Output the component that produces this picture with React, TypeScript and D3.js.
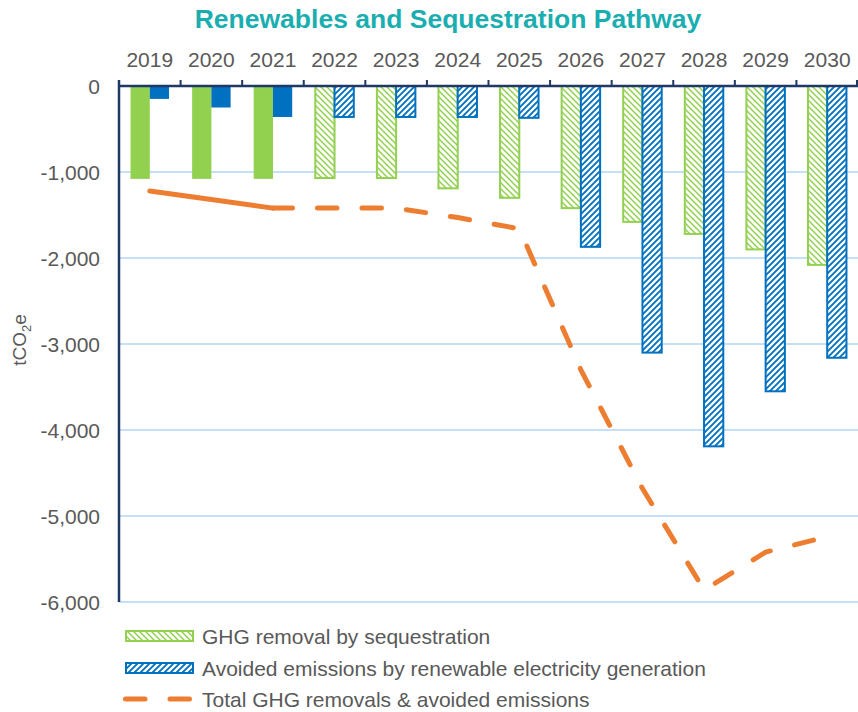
import * as d3 from 'd3';
import React, { useRef, useEffect } from 'react';

const years = ['2019', '2020', '2021', '2022', '2023', '2024', '2025', '2026', '2027', '2028', '2029', '2030']
const sequestration = [-1080, -1080, -1080, -1070, -1070, -1190, -1300, -1420, -1580, -1720, -1900, -2080]
const renewables = [-150, -250, -360, -360, -360, -360, -370, -1870, -3100, -4190, -3550, -3160]
const totals = [-1220, -1320, -1420, -1420, -1420, -1530, -1660, -3300, -4680, -5860, -5420, -5240]
const yTicks = [0, -1000, -2000, -3000, -4000, -5000, -6000]
const actualYears = 3 // 2019-2021 are actuals (solid), the rest projected
const legendLabels = [
    'GHG removal by sequestration',
    'Avoided emissions by renewable electricity generation',
    'Total GHG removals & avoided emissions'
]

const GREEN = '#92D050'
const BLUE = '#0070C0'
const ORANGE = '#ED7D31'
const AXIS = '#1F3864'
const GRID = '#C5DFF6'
const TEXT = '#595959'
const FONT = '"Liberation Sans", Arial, sans-serif'

export default function App() {
    const ref = useRef(null)

    useEffect(() => {
        d3.select(ref.current).selectAll('*').remove()

        const svg = d3.select(ref.current)
        const left = 119, right = 858, top = 86, bottom = 602

        // hatch patterns
        const defs = svg.append('defs')
        const gp = defs.append('pattern')
            .attr('id', 'greenHatch')
            .attr('patternUnits', 'userSpaceOnUse')
            .attr('width', 6).attr('height', 6)
        gp.append('rect').attr('width', 6).attr('height', 6).attr('fill', '#fff')
        gp.append('path')
            .attr('d', 'M0,0 L6,6 M-1,5 L1,7 M5,-1 L7,1')
            .attr('stroke', GREEN).attr('stroke-width', 1.5)

        const bp = defs.append('pattern')
            .attr('id', 'blueHatch')
            .attr('patternUnits', 'userSpaceOnUse')
            .attr('width', 6).attr('height', 6)
        bp.append('rect').attr('width', 6).attr('height', 6).attr('fill', BLUE)
        bp.append('path')
            .attr('d', 'M0,6 L6,0 M-1,1 L1,-1 M5,7 L7,5')
            .attr('stroke', '#fff').attr('stroke-width', 2.4)

        const x = d3.scaleBand()
            .domain(years)
            .range([left, right])
            .padding(0)

        const y = d3.scaleLinear()
            .domain([-6000, 0])
            .range([bottom, top])

        const bw = x.bandwidth() / 3.2

        // title
        svg.append('text')
            .attr('x', 448)
            .attr('y', 28)
            .attr('text-anchor', 'middle')
            .style('font-family', FONT)
            .style('font-size', '26.5px')
            .style('font-weight', 'bold')
            .style('fill', '#1AAEB0')
            .text('Renewables and Sequestration Pathway')

        // gridlines
        svg.append('g')
            .selectAll('line')
            .data(yTicks.filter(d => d !== 0))
            .enter().append('line')
            .attr('x1', left).attr('x2', right)
            .attr('y1', d => y(d)).attr('y2', d => y(d))
            .attr('stroke', GRID)
            .attr('stroke-width', 2)

        // y tick labels
        svg.append('g')
            .selectAll('text')
            .data(yTicks)
            .enter().append('text')
            .attr('x', 100)
            .attr('y', d => y(d))
            .attr('dy', '0.36em')
            .attr('text-anchor', 'end')
            .style('font-family', FONT)
            .style('font-size', '21px')
            .style('fill', TEXT)
            .text(d => d3.format(',')(d).replace('−', '-'))

        // y axis title
        const yt = svg.append('text')
            .attr('transform', 'translate(26,340) rotate(-90)')
            .attr('text-anchor', 'middle')
            .style('font-family', FONT)
            .style('font-size', '19px')
            .style('fill', TEXT)
        yt.append('tspan').text('tCO')
        yt.append('tspan').attr('dy', 5).style('font-size', '13px').text('2')
        yt.append('tspan').attr('dy', -5).text('e')

        // bars
        const rows = years.map((yr, i) => ({ yr, i, seq: sequestration[i], ren: renewables[i] }))

        svg.append('g')
            .selectAll('rect')
            .data(rows)
            .enter().append('rect')
            .attr('x', d => x(d.yr) + x.bandwidth() / 2 - bw)
            .attr('y', y(0))
            .attr('width', bw)
            .attr('height', d => y(d.seq) - y(0))
            .attr('fill', d => d.i < actualYears ? GREEN : 'url(#greenHatch)')
            .attr('stroke', d => d.i < actualYears ? 'none' : GREEN)
            .attr('stroke-width', 2)

        svg.append('g')
            .selectAll('rect')
            .data(rows)
            .enter().append('rect')
            .attr('x', d => x(d.yr) + x.bandwidth() / 2)
            .attr('y', y(0))
            .attr('width', bw)
            .attr('height', d => y(d.ren) - y(0))
            .attr('fill', d => d.i < actualYears ? BLUE : 'url(#blueHatch)')
            .attr('stroke', d => d.i < actualYears ? 'none' : BLUE)
            .attr('stroke-width', 2)

        // total line: solid for actuals, dashed for projection
        const pts = years.map((yr, i) => [x(yr) + x.bandwidth() / 2, y(totals[i])])
        const line = d3.line()

        svg.append('path')
            .attr('d', line(pts.slice(0, actualYears)))
            .attr('fill', 'none')
            .attr('stroke', ORANGE)
            .attr('stroke-width', 5)
            .attr('stroke-linecap', 'round')
            .attr('stroke-linejoin', 'round')

        svg.append('path')
            .attr('d', line(pts.slice(actualYears - 1)))
            .attr('fill', 'none')
            .attr('stroke', ORANGE)
            .attr('stroke-width', 5)
            .attr('stroke-linecap', 'round')
            .attr('stroke-linejoin', 'round')
            .attr('stroke-dasharray', '19.5 25')

        // top x axis
        const xAxis = d3.axisTop(x).tickSize(0).tickPadding(0)
        const gx = svg.append('g')
            .attr('transform', `translate(0, 67)`)
            .call(xAxis)
        gx.select('.domain').remove()
        gx.selectAll('text')
            .style('font-family', FONT)
            .style('font-size', '21px')
            .style('fill', TEXT)
            .attr('dy', 0)

        svg.append('line')
            .attr('x1', left).attr('x2', right)
            .attr('y1', y(0)).attr('y2', y(0))
            .attr('stroke', AXIS).attr('stroke-width', 2.5)

        svg.append('g')
            .selectAll('line')
            .data(years.concat(['end']))
            .enter().append('line')
            .attr('x1', d => d === 'end' ? right - 1 : x(d))
            .attr('x2', d => d === 'end' ? right - 1 : x(d))
            .attr('y1', y(0) - 6).attr('y2', y(0))
            .attr('stroke', AXIS).attr('stroke-width', 2)

        svg.append('line')
            .attr('x1', left).attr('x2', left)
            .attr('y1', y(0) - 6).attr('y2', bottom)
            .attr('stroke', AXIS).attr('stroke-width', 2.5)

        // legend
        const lg = svg.append('g')
        const rowY = [636, 668, 699]
        lg.append('rect')
            .attr('x', 126).attr('y', rowY[0] - 5)
            .attr('width', 67).attr('height', 10)
            .attr('fill', 'url(#greenHatch)')
            .attr('stroke', GREEN).attr('stroke-width', 2)
        lg.append('rect')
            .attr('x', 126).attr('y', rowY[1] - 5)
            .attr('width', 67).attr('height', 10)
            .attr('fill', 'url(#blueHatch)')
            .attr('stroke', BLUE).attr('stroke-width', 2)
        lg.append('line')
            .attr('x1', 125.5).attr('x2', 190)
            .attr('y1', rowY[2]).attr('y2', rowY[2])
            .attr('stroke', ORANGE)
            .attr('stroke-width', 5)
            .attr('stroke-linecap', 'round')
            .attr('stroke-dasharray', '19.5 25')

        lg.selectAll('text')
            .data(legendLabels)
            .enter().append('text')
            .attr('x', 202)
            .attr('y', (d, i) => rowY[i])
            .attr('dy', '0.36em')
            .style('font-family', FONT)
            .style('font-size', '21px')
            .style('fill', TEXT)
            .text(d => d)
    }, [])

    return (
        <svg ref={ref} width={858} height={712}
            style={{ position: 'absolute', left: 0, top: 0, background: '#fff' }} />
    )
}
